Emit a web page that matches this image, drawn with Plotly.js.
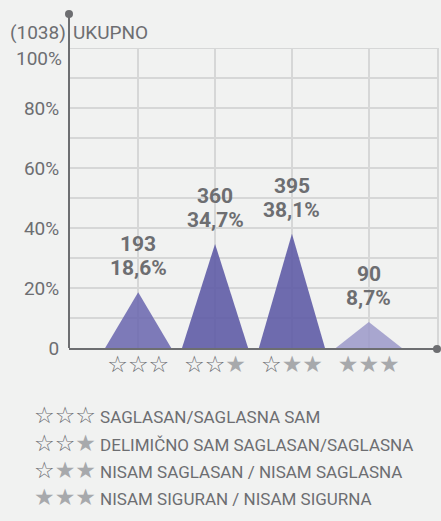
<!DOCTYPE html>
<html><head><meta charset="utf-8">
<script src="https://cdn.plot.ly/plotly-3.0.1.min.js"></script>
<style>html,body{margin:0;padding:0;background:#f1f2f1;}</style>
</head><body>
<div id="chart" style="width:441px;height:521px;"></div>
<script>
// Data
const categories = ['☆☆☆', '☆☆★', '☆★★', '★★★'];
const counts = [193, 360, 395, 90];
const percents = [18.6, 34.7, 38.1, 8.7];
const percentLabels = ['18,6%', '34,7%', '38,1%', '8,7%'];
const total = 1038;
const titleText = 'UKUPNO';
const legendLabels = [
  'SAGLASAN/SAGLASNA SAM',
  'DELIMIČNO SAM SAGLASAN/SAGLASNA',
  'NISAM SAGLASAN / NISAM SAGLASNA',
  'NISAM SIGURAN / NISAM SIGURNA'
];
const yTickVals = [0, 20, 40, 60, 80];
const yTickText = ['0', '20%', '40%', '60%', '80%'];
const yGridVals = [10, 20, 30, 40, 50, 60, 70, 80, 90, 100];

// Styles
const fillColors = ['rgba(108,105,175,0.88)', 'rgba(95,92,166,0.9)', 'rgba(95,92,166,0.9)', 'rgba(155,153,201,0.85)'];
const gray = '#6d6e71';
const starGray = '#a7a9ac';
const gridCol = '#d6d7d7';
const halfW = 0.43;
const W = 441, H = 521, L = 69, R = 3, T = 48, B = 173;
const pw = W - L - R, ph = H - T - B;
const px = v => (v - L) / pw;          // pixel x -> paper
const py = v => (H - B - v) / ph;      // pixel y -> paper
const font = 'Roboto, "Open Sans", sans-serif';

function starHtml(s) {
  return s.split('').map(c => c === '★'
    ? '<span style="color:' + starGray + '">★</span>'
    : '<span style="color:' + gray + '">☆</span>').join('');
}

const traces = categories.map((c, i) => ({
  type: 'scatter',
  x: [i - halfW, i, i + halfW],
  y: [0, percents[i], 0],
  fill: 'toself',
  fillcolor: fillColors[i],
  mode: 'lines',
  line: {width: 0},
  hoverinfo: 'skip',
  showlegend: false
}));

const annotations = [];
categories.forEach((c, i) => {
  annotations.push({
    x: i, y: percents[i], xref: 'x', yref: 'y',
    text: '<b>' + percentLabels[i] + '</b>',
    showarrow: false, yanchor: 'bottom', yshift: 10,
    font: {family: font, size: 21, color: gray}
  });
  annotations.push({
    x: i, y: percents[i], xref: 'x', yref: 'y',
    text: '<b>' + counts[i] + '</b>',
    showarrow: false, yanchor: 'bottom', yshift: 34,
    font: {family: font, size: 21, color: gray}
  });
});

annotations.push({
  x: px(68), y: py(33), xref: 'paper', yref: 'paper', xanchor: 'right', yanchor: 'middle',
  text: '(' + total + ')', showarrow: false, font: {family: font, size: 19, color: gray}
});
annotations.push({
  x: px(71), y: py(33), xref: 'paper', yref: 'paper', xanchor: 'left', yanchor: 'middle',
  text: titleText, showarrow: false, font: {family: font, size: 19, color: gray}
});
annotations.push({
  x: px(64), y: py(59), xref: 'paper', yref: 'paper', xanchor: 'right', yanchor: 'middle',
  text: '100%', showarrow: false, font: {family: font, size: 19, color: gray}
});
const legendY = [415, 443, 470, 497];
legendLabels.forEach((lab, i) => {
  annotations.push({
    x: px(32), y: py(legendY[i]), xref: 'paper', yref: 'paper', xanchor: 'left', yanchor: 'middle',
    text: '<span style="font-family:DejaVu Sans;font-size:23px">' + starHtml(categories[i]) + '</span> ' + lab,
    showarrow: false, font: {family: font, size: 17, color: gray}
  });
});

const shapes = yGridVals.map(v => ({
  type: 'line', layer: 'below', xref: 'paper', yref: 'y', x0: 0, x1: 1, y0: v, y1: v,
  line: {color: gridCol, width: 2}
}));
shapes.push(
  {type: 'line', layer: 'below', xref: 'paper', yref: 'paper', x0: 1, x1: 1, y0: 0, y1: 1, line: {color: gridCol, width: 2}},
  {type: 'line', xref: 'paper', yref: 'paper', x0: 0, x1: 0, y0: 0, y1: py(14), line: {color: gray, width: 2}},
  {type: 'line', xref: 'paper', yref: 'paper', x0: 0, x1: px(437), y0: py(349), y1: py(349), line: {color: gray, width: 2}},
  {type: 'circle', xref: 'paper', yref: 'paper', xsizemode: 'pixel', ysizemode: 'pixel',
   xanchor: 0, yanchor: py(14), x0: -4, x1: 4, y0: -4, y1: 4, fillcolor: gray, line: {width: 0}},
  {type: 'circle', xref: 'paper', yref: 'paper', xsizemode: 'pixel', ysizemode: 'pixel',
   xanchor: px(437), yanchor: py(349), x0: -4, x1: 4, y0: -4, y1: 4, fillcolor: gray, line: {width: 0}}
);

const layout = {
  width: W, height: H,
  margin: {l: L, r: R, t: T, b: B},
  paper_bgcolor: '#f1f2f1', plot_bgcolor: '#f1f2f1',
  showlegend: false,
  xaxis: {
    range: [-0.9, 3.9], tickvals: [0, 1, 2, 3], ticktext: categories.map(starHtml),
    showgrid: true, gridcolor: gridCol, gridwidth: 2, zeroline: false, showline: false,
    tickfont: {family: 'DejaVu Sans, sans-serif', size: 23, color: gray}, ticks: '', fixedrange: true
  },
  yaxis: {
    type: 'linear', range: [0, 100], tickmode: 'array', tickvals: yTickVals, ticktext: yTickText,
    showgrid: false, zeroline: false, showline: false,
    tickfont: {family: font, size: 19, color: gray},
    ticks: 'outside', ticklen: 5, tickcolor: 'rgba(0,0,0,0)', fixedrange: true
  },
  annotations: annotations,
  shapes: shapes
};

Plotly.newPlot('chart', traces, layout, {displayModeBar: false, staticPlot: true});
</script>
</body></html>
